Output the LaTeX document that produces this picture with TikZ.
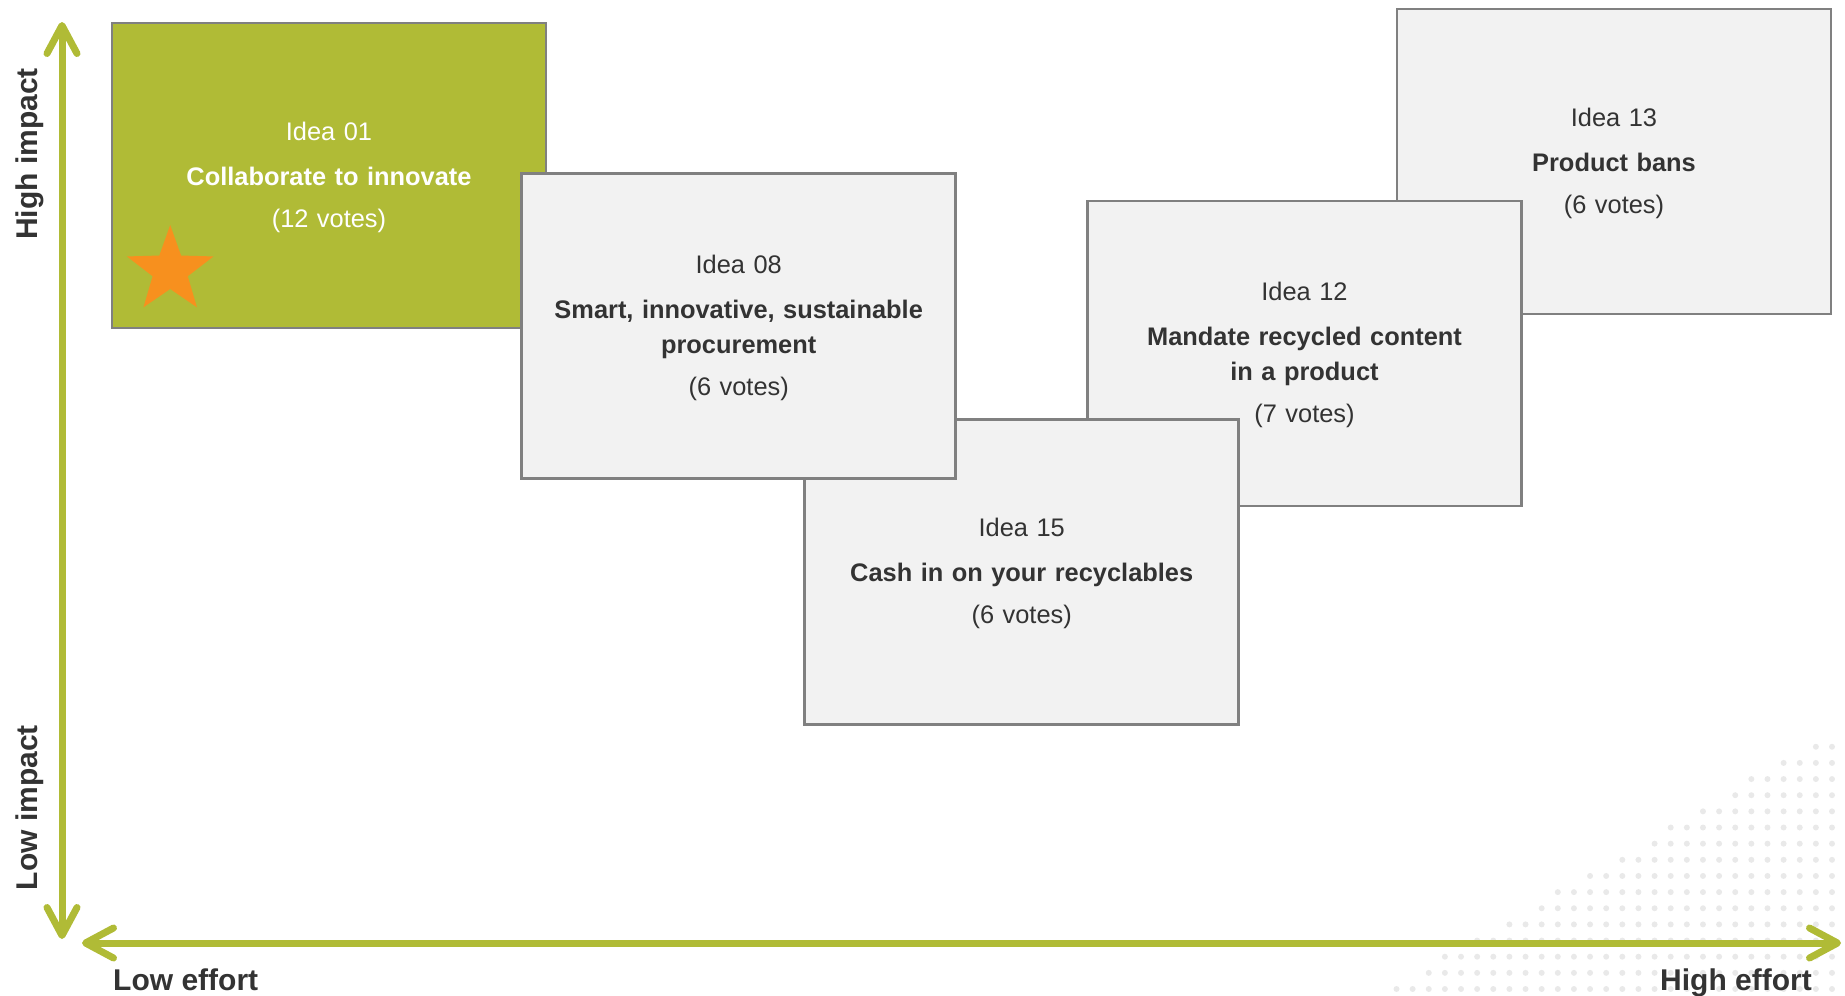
\documentclass[tikz,border=0pt]{standalone}
\usepackage{fontspec}
\setmainfont{Liberation Sans}
\usetikzlibrary{arrows.meta}
\definecolor{lime}{HTML}{B0BB36}
\definecolor{boxgray}{HTML}{F2F2F2}
\definecolor{edgegray}{HTML}{808080}
\definecolor{txt}{HTML}{333333}
\definecolor{starorange}{HTML}{F7901E}
\definecolor{dotgray}{HTML}{E9E9E9}
\newcommand{\ideatext}[3]{\rule{0pt}{22.2pt}#1\\[10pt]\textbf{#2}\\[7pt]#3}
\begin{document}
\begin{tikzpicture}[x=1pt,y=-1pt,
  idea/.style={draw=edgegray, line width=2.5pt, fill=boxgray,
    minimum width=434pt, minimum height=305pt, inner sep=2pt,
    text width=428pt, align=center, text=txt,
    font=\fontsize{25.4}{35}\selectfont},
  hot/.style={idea, fill=lime, text=white},
  axisline/.style={draw=lime, line width=7pt},
  axislabel/.style={text=txt, font=\fontsize{30}{36}\selectfont\bfseries, inner sep=0pt},
  dotmark/.style={fill=dotgray}
]
\useasboundingbox (0,0) rectangle (1845,996);

% dotted background pattern (bottom right)
\foreach \j in {0,...,15}{
  \pgfmathtruncatemacro\M{round(27-1.73*\j)}
  \foreach \i in {0,...,\M}{
    \fill[dotmark] ({1832-16.13*\i},{989-16.15*\j}) circle[radius=3];
  }
}

% idea boxes (back to front)
\node[hot] (i01) at (329,175.7) {\ideatext{Idea 01}{Collaborate to innovate}{(12 votes)}};
\node[idea] (i13) at (1614,161.7) {\ideatext{Idea 13}{Product bans}{(6 votes)}};
\node[idea] (i12) at (1304.5,353.5) {\ideatext{Idea 12}{Mandate recycled content\\in a product}{(7 votes)}};
\node[idea] (i15) at (1021.7,572) {\ideatext{Idea 15}{Cash in on your recyclables}{(6 votes)}};
\node[idea] (i08) at (738.7,326.2) {\ideatext{Idea 08}{Smart, innovative, sustainable\\procurement}{(6 votes)}};

% star
\fill[starorange] (170.2,270.5)
  +(-90:45.5) -- +(-54:18.5) -- +(-18:45.5) -- +(18:18.5) -- +(54:45.5)
  -- +(90:18.5) -- +(126:45.5) -- +(162:18.5) -- +(198:45.5) -- +(234:18.5) -- cycle;

% axes
\coordinate (vtop) at (62,22);
\coordinate (vbot) at (62,939);
\coordinate (hleft) at (82,943);
\coordinate (hright) at (1841,943);
\draw[axisline, {Straight Barb[length=28pt,width=30pt,round]}-{Straight Barb[length=28pt,width=30pt,round]}] (vbot) -- (vtop);
\draw[axisline, {Straight Barb[length=28pt,width=30pt,round]}-{Straight Barb[length=28pt,width=30pt,round]}] (hleft) -- (hright);

% axis labels
\node[axislabel, rotate=90, anchor=base] (hiimp) at (37.5,154) {High impact};
\node[axislabel, rotate=90, anchor=base] (loimp) at (37.5,807.5) {Low impact};
\node[axislabel, anchor=base west] (loeff) at (113,990) {Low effort};
\node[axislabel, anchor=base east] (hieff) at (1812,990) {High effort};
\end{tikzpicture}
\end{document}
